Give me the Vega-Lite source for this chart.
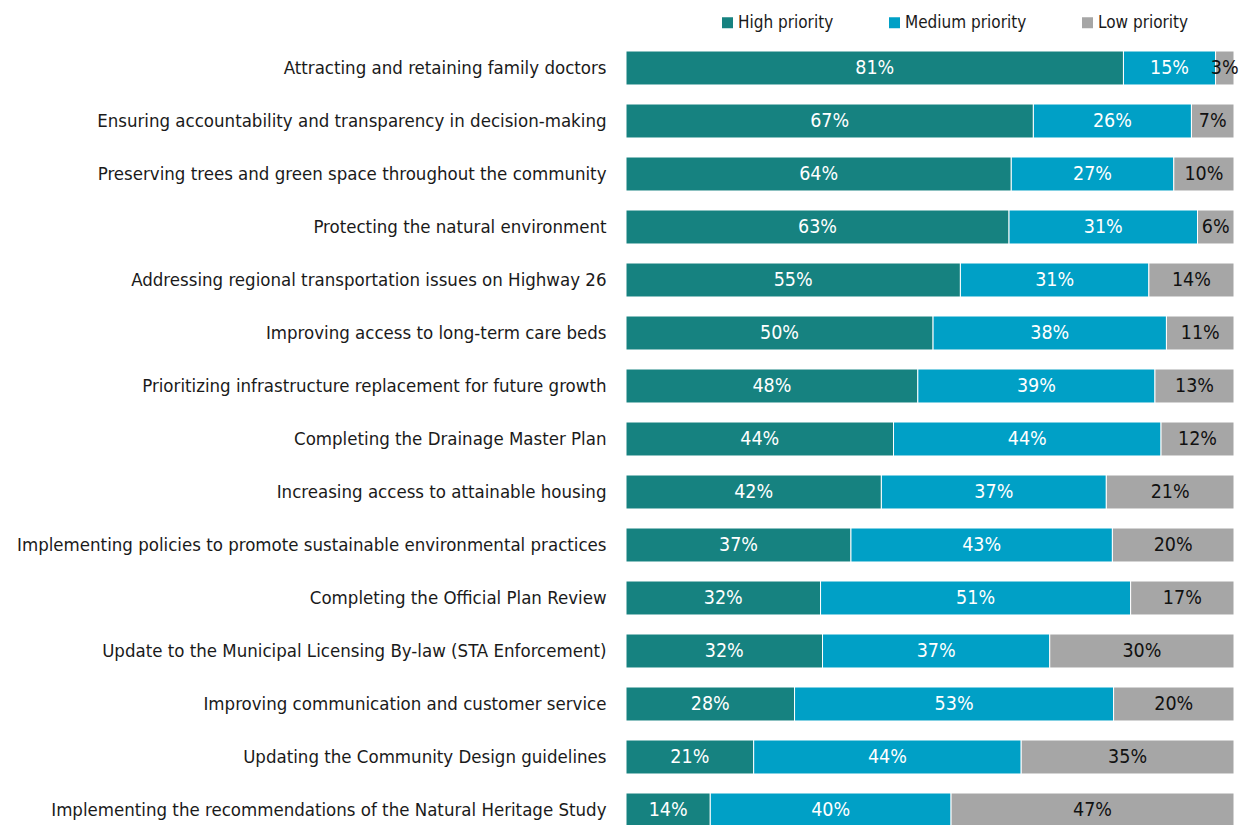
{
  "$schema": "https://vega.github.io/schema/vega-lite/v6.json",
  "width": 608,
  "height": 776,
  "autosize": {"type": "none"},
  "padding": {"left": 626, "top": 51, "right": 13, "bottom": 0},
  "background": "white",
  "config": {"view": {"stroke": null}, "font": "DejaVu Sans Condensed, Liberation Sans, sans-serif"},
  "data": {"values": [
    {"item": "Attracting and retaining family doctors", "cat": "High priority", "rank": 1, "v": 0.81},
    {"item": "Attracting and retaining family doctors", "cat": "Medium priority", "rank": 2, "v": 0.15},
    {"item": "Attracting and retaining family doctors", "cat": "Low priority", "rank": 3, "v": 0.03},
    {"item": "Ensuring accountability and transparency in decision-making", "cat": "High priority", "rank": 1, "v": 0.67},
    {"item": "Ensuring accountability and transparency in decision-making", "cat": "Medium priority", "rank": 2, "v": 0.26},
    {"item": "Ensuring accountability and transparency in decision-making", "cat": "Low priority", "rank": 3, "v": 0.07},
    {"item": "Preserving trees and green space throughout the community", "cat": "High priority", "rank": 1, "v": 0.64},
    {"item": "Preserving trees and green space throughout the community", "cat": "Medium priority", "rank": 2, "v": 0.27},
    {"item": "Preserving trees and green space throughout the community", "cat": "Low priority", "rank": 3, "v": 0.10},
    {"item": "Protecting the natural environment", "cat": "High priority", "rank": 1, "v": 0.63},
    {"item": "Protecting the natural environment", "cat": "Medium priority", "rank": 2, "v": 0.31},
    {"item": "Protecting the natural environment", "cat": "Low priority", "rank": 3, "v": 0.06},
    {"item": "Addressing regional transportation issues on Highway 26", "cat": "High priority", "rank": 1, "v": 0.55},
    {"item": "Addressing regional transportation issues on Highway 26", "cat": "Medium priority", "rank": 2, "v": 0.31},
    {"item": "Addressing regional transportation issues on Highway 26", "cat": "Low priority", "rank": 3, "v": 0.14},
    {"item": "Improving access to long-term care beds", "cat": "High priority", "rank": 1, "v": 0.50},
    {"item": "Improving access to long-term care beds", "cat": "Medium priority", "rank": 2, "v": 0.38},
    {"item": "Improving access to long-term care beds", "cat": "Low priority", "rank": 3, "v": 0.11},
    {"item": "Prioritizing infrastructure replacement for future growth", "cat": "High priority", "rank": 1, "v": 0.48},
    {"item": "Prioritizing infrastructure replacement for future growth", "cat": "Medium priority", "rank": 2, "v": 0.39},
    {"item": "Prioritizing infrastructure replacement for future growth", "cat": "Low priority", "rank": 3, "v": 0.13},
    {"item": "Completing the Drainage Master Plan", "cat": "High priority", "rank": 1, "v": 0.44},
    {"item": "Completing the Drainage Master Plan", "cat": "Medium priority", "rank": 2, "v": 0.44},
    {"item": "Completing the Drainage Master Plan", "cat": "Low priority", "rank": 3, "v": 0.12},
    {"item": "Increasing access to attainable housing", "cat": "High priority", "rank": 1, "v": 0.42},
    {"item": "Increasing access to attainable housing", "cat": "Medium priority", "rank": 2, "v": 0.37},
    {"item": "Increasing access to attainable housing", "cat": "Low priority", "rank": 3, "v": 0.21},
    {"item": "Implementing policies to promote sustainable environmental practices", "cat": "High priority", "rank": 1, "v": 0.37},
    {"item": "Implementing policies to promote sustainable environmental practices", "cat": "Medium priority", "rank": 2, "v": 0.43},
    {"item": "Implementing policies to promote sustainable environmental practices", "cat": "Low priority", "rank": 3, "v": 0.20},
    {"item": "Completing the Official Plan Review", "cat": "High priority", "rank": 1, "v": 0.32},
    {"item": "Completing the Official Plan Review", "cat": "Medium priority", "rank": 2, "v": 0.51},
    {"item": "Completing the Official Plan Review", "cat": "Low priority", "rank": 3, "v": 0.17},
    {"item": "Update to the Municipal Licensing By-law (STA Enforcement)", "cat": "High priority", "rank": 1, "v": 0.32},
    {"item": "Update to the Municipal Licensing By-law (STA Enforcement)", "cat": "Medium priority", "rank": 2, "v": 0.37},
    {"item": "Update to the Municipal Licensing By-law (STA Enforcement)", "cat": "Low priority", "rank": 3, "v": 0.30},
    {"item": "Improving communication and customer service", "cat": "High priority", "rank": 1, "v": 0.28},
    {"item": "Improving communication and customer service", "cat": "Medium priority", "rank": 2, "v": 0.53},
    {"item": "Improving communication and customer service", "cat": "Low priority", "rank": 3, "v": 0.20},
    {"item": "Updating the Community Design guidelines", "cat": "High priority", "rank": 1, "v": 0.21},
    {"item": "Updating the Community Design guidelines", "cat": "Medium priority", "rank": 2, "v": 0.44},
    {"item": "Updating the Community Design guidelines", "cat": "Low priority", "rank": 3, "v": 0.35},
    {"item": "Implementing the recommendations of the Natural Heritage Study", "cat": "High priority", "rank": 1, "v": 0.14},
    {"item": "Implementing the recommendations of the Natural Heritage Study", "cat": "Medium priority", "rank": 2, "v": 0.40},
    {"item": "Implementing the recommendations of the Natural Heritage Study", "cat": "Low priority", "rank": 3, "v": 0.47}
  ]},
  "transform": [
    {"stack": "v", "groupby": ["item"], "sort": [{"field": "rank", "order": "ascending"}], "offset": "normalize", "as": ["x0", "x1"]},
    {"calculate": "(datum.x0 + datum.x1) / 2", "as": "xm"}
  ],
  "encoding": {
    "y": {"field": "item", "type": "nominal", "sort": null,
      "scale": {"paddingInner": 0.3585, "paddingOuter": 0},
      "axis": {"title": null, "domain": false, "ticks": false, "labelFontSize": 18.5, "labelColor": "#1a1a1a", "labelPadding": 20, "labelLimit": 700}}
  },
  "layer": [
    {
      "mark": {"type": "bar", "stroke": "white", "strokeWidth": 1},
      "encoding": {
        "x": {"field": "x0", "type": "quantitative", "scale": {"domain": [0, 1]}, "axis": null},
        "x2": {"field": "x1"},
        "color": {"field": "cat", "type": "nominal",
          "scale": {"domain": ["High priority", "Medium priority", "Low priority"], "range": ["#168280", "#00A0C6", "#A6A6A6"]},
          "legend": {"title": null, "orient": "none", "legendX": 93, "legendY": -37, "direction": "horizontal", "symbolType": "square", "symbolSize": 121, "symbolStrokeWidth": 0, "labelFontSize": 17, "labelColor": "#1a1a1a", "columnPadding": 52, "labelOffset": 2}}
      }
    },
    {
      "mark": {"type": "text", "fontSize": 19.5},
      "encoding": {
        "x": {"field": "xm", "type": "quantitative"},
        "text": {"field": "v", "type": "quantitative", "format": ".0%"},
        "color": {"condition": {"test": "datum.cat === 'Low priority'", "value": "#111111"}, "value": "white"}
      }
    }
  ]
}
